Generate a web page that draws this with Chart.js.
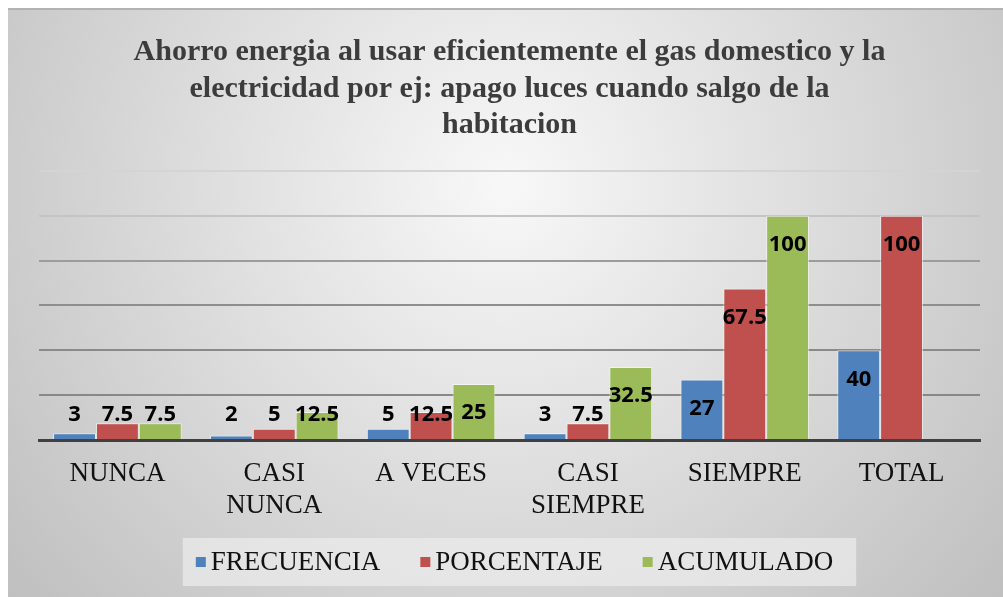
<!DOCTYPE html>
<html>
<head>
<meta charset="utf-8">
<script src="https://cdn.jsdelivr.net/npm/chart.js@4.4.1/dist/chart.umd.min.js"></script>
<style>
  body { margin: 0; background: #fff; }
  #wrap { position: absolute; left: 8px; top: 8px; width: 995px; height: 589px; }
</style>
</head>
<body>
<div id="wrap"><canvas id="chart"></canvas></div>
<script>
// chart data
const titleLines = ['Ahorro energia al usar eficientemente el gas domestico y la',
                    'electricidad por ej: apago luces cuando salgo de la',
                    'habitacion'];
const categories = [['NUNCA'], ['CASI', 'NUNCA'], ['A VECES'], ['CASI', 'SIEMPRE'], ['SIEMPRE'], ['TOTAL']];
const seriesNames = ['FRECUENCIA', 'PORCENTAJE', 'ACUMULADO'];
const frecuencia = [3, 2, 5, 3, 27, 40];
const porcentaje = [7.5, 5, 12.5, 7.5, 67.5, 100];
const acumulado = [7.5, 12.5, 25, 32.5, 100, null];
const yMax = 120;
const yStep = 20;

const colors = ['#4f81bd', '#c0504d', '#9bbb59'];
const gridShades = { 20: '#888888', 40: '#8a8a8a', 60: '#8e8e8e', 80: '#9c9c9c', 100: '#c4c4c4', 120: '#d4d4d4' };

// gray gradient background like the office chart
const bgPlugin = {
  id: 'bg',
  beforeDraw(chart) {
    const { ctx, width, height } = chart;
    const cx = width * 0.5, cy = height * 0.3;
    const g = ctx.createRadialGradient(cx, cy, 10, cx, cy, width * 0.64);
    g.addColorStop(0, '#f7f7f7');
    g.addColorStop(1, '#c0c0c0');
    ctx.save();
    ctx.fillStyle = g;
    ctx.fillRect(0, 0, width, height);
    ctx.fillStyle = '#b2b2b2';
    ctx.fillRect(0, 0, width, 2);
    ctx.restore();
  }
};

// value labels near the top of each bar
const valueLabels = {
  id: 'valueLabels',
  afterDatasetsDraw(chart) {
    const ctx = chart.ctx;
    const base = chart.scales.y.getPixelForValue(0);
    ctx.save();
    ctx.font = 'bold 22px "Open Sans"';
    ctx.fillStyle = '#000';
    ctx.textAlign = 'center';
    ctx.textBaseline = 'middle';
    chart.data.datasets.forEach((ds, i) => {
      chart.getDatasetMeta(i).data.forEach((bar, j) => {
        const v = ds.data[j];
        if (v === null || v === undefined) return;
        const y = Math.min(bar.y + 29, base - 25);
        ctx.fillText(String(v), bar.x, y);
      });
    });
    ctx.restore();
  }
};

// legend inside a lighter box
const boxLegend = {
  id: 'boxLegend',
  afterDraw(chart) {
    const ctx = chart.ctx;
    ctx.save();
    ctx.font = '27px "Liberation Serif"';
    const sq = 10, gap = 5, spacing = 40;
    const items = chart.data.datasets.map(ds => ({
      label: ds.label, color: ds.backgroundColor, w: ctx.measureText(ds.label).width
    }));
    const total = items.reduce((s, it) => s + sq + gap + it.w, 0) + spacing * (items.length - 1);
    let x = chart.width / 2 + 9 - total / 2;
    const y = chart.height - 35;
    ctx.fillStyle = 'rgba(236,236,236,0.7)';
    ctx.fillRect(x - 13, y - 24, total + 36, 48);
    ctx.textBaseline = 'middle';
    items.forEach(it => {
      ctx.fillStyle = it.color;
      ctx.fillRect(x, y - sq / 2, sq, sq);
      x += sq + gap;
      ctx.fillStyle = '#111';
      ctx.fillText(it.label, x, y + 1);
      x += it.w + spacing;
    });
    ctx.restore();
  }
};

const seriesData = [frecuencia, porcentaje, acumulado];

new Chart(document.getElementById('chart'), {
  type: 'bar',
  data: {
    labels: categories,
    datasets: seriesData.map((d, i) => ({
      label: seriesNames[i],
      data: d,
      backgroundColor: colors[i],
      borderColor: 'rgba(255,255,255,0.55)',
      borderWidth: 1,
      categoryPercentage: 0.82,
      barPercentage: 1
    }))
  },
  options: {
    responsive: true,
    maintainAspectRatio: false,
    animation: false,
    layout: { padding: { left: 31, right: 23, top: 0, bottom: 60 } },
    plugins: {
      legend: { display: false },
      tooltip: { enabled: false },
      title: {
        display: true,
        text: titleLines,
        color: '#3c3c3c',
        font: { family: '"Liberation Serif", "Times New Roman", serif', size: 30, weight: 'bold', lineHeight: 1.22 },
        padding: { top: 26, bottom: 27 }
      }
    },
    scales: {
      x: {
        grid: { display: false, drawTicks: false },
        border: { display: true, color: '#404040', width: 3 },
        ticks: {
          color: '#111',
          font: { family: '"Liberation Serif"', size: 27, lineHeight: 1.19 },
          padding: 18,
          maxRotation: 0,
          autoSkip: false
        },
        afterFit(scale) { scale.height = 97; }
      },
      y: {
        min: 0,
        max: yMax,
        ticks: { stepSize: yStep, display: false },
        border: { display: false },
        grid: {
          drawTicks: false,
          lineWidth: 2,
          color: ctx => ctx.tick && ctx.tick.value > 0 ? (gridShades[ctx.tick.value] || '#8a8a8a') : 'rgba(0,0,0,0)'
        }
      }
    }
  },
  plugins: [bgPlugin, valueLabels, boxLegend]
});
</script>
</body>
</html>
